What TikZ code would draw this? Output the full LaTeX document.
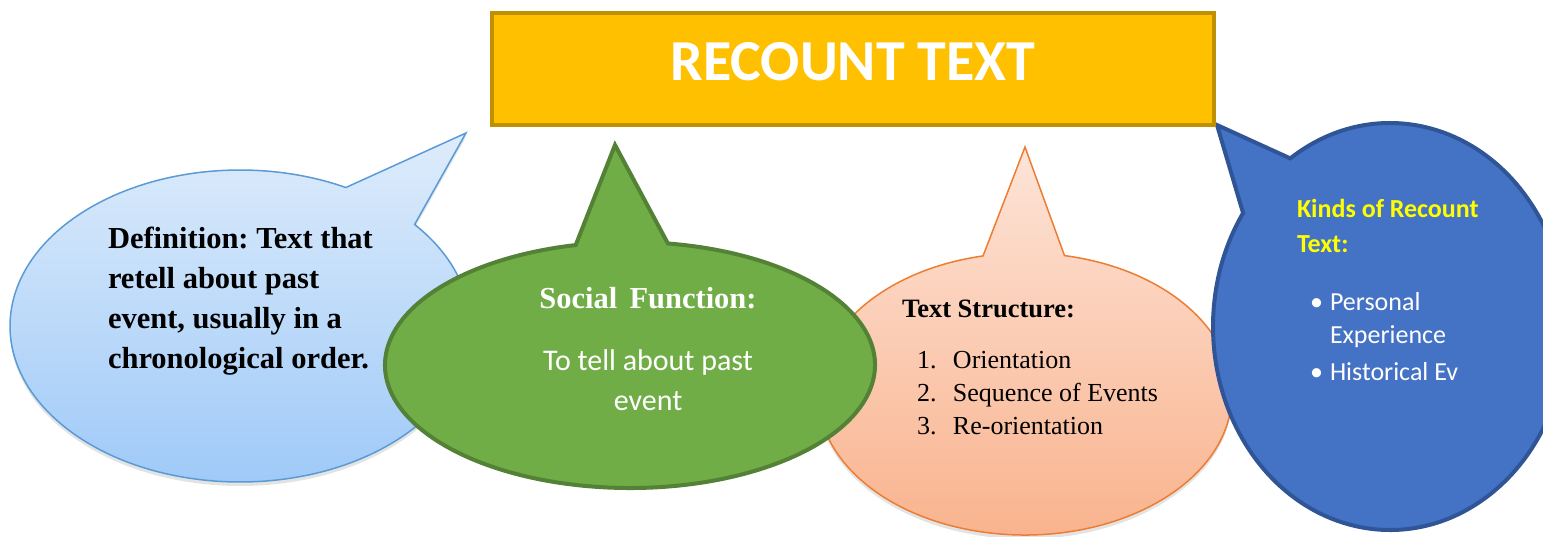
\documentclass[tikz,border=0pt]{standalone}
\usepackage{fontspec}
\setmainfont{Liberation Serif}
\newfontfamily\calfont{Carlito}
\usetikzlibrary{shadows,calc}
\definecolor{boxfill}{HTML}{FFC000}
\definecolor{boxline}{HTML}{BF9000}
\definecolor{lbtop}{HTML}{DEECFB}
\definecolor{lbbot}{HTML}{9CC8F8}
\definecolor{lbline}{HTML}{5B9BD5}
\definecolor{grfill}{HTML}{70AD47}
\definecolor{grline}{HTML}{538135}
\definecolor{ortop}{HTML}{FDE4D8}
\definecolor{orbot}{HTML}{F9B28C}
\definecolor{orline}{HTML}{ED7D31}
\definecolor{dbfill}{HTML}{4472C4}
\definecolor{dbline}{HTML}{2F5597}
\definecolor{kyellow}{HTML}{FFFF00}
\tikzset{
  bubbleshadow/.style={drop shadow={opacity=0.22, shadow xshift=0pt, shadow yshift=-4pt}},
  plaintext/.style={inner sep=0pt, outer sep=0pt},
}
\frenchspacing
\begin{document}
\begin{tikzpicture}[x=1pt,y=-1pt]
\useasboundingbox (0,0) rectangle (1543,536);
\clip (0,0) rectangle (1543,536);

% left light-blue bubble
\coordinate (lbc) at (240,326);
\coordinate (lbtip) at (466,133);
\path[draw=lbline, line width=1.5pt, top color=lbtop, bottom color=lbbot, bubbleshadow]
  ($(lbc)+(-62.6:230 and 156)$) -- (lbtip) -- ($(lbc)+(-40.6:230 and 156)$)
  arc[start angle=-40.6, end angle=297.4, x radius=230, y radius=156] -- cycle;

% orange bubble
\coordinate (orc) at (1025,394);
\coordinate (ortip) at (1025,147);
\path[draw=orline, line width=1.5pt, top color=ortop, bottom color=orbot, bubbleshadow]
  ($(orc)+(-79:207 and 141)$)
  arc[start angle=-79, end angle=258.3, x radius=207, y radius=141] -- (ortip) -- cycle;

% green bubble
\coordinate (grc) at (630,365);
\coordinate (grtip) at (615,145);
\path[draw=grline, line width=4pt, fill=grfill]
  ($(grc)+(-81.1:245 and 123)$)
  arc[start angle=-81.1, end angle=257.2, x radius=245, y radius=123] -- (grtip) -- cycle;

% dark blue bubble
\coordinate (dbc) at (1390,326.5);
\coordinate (dbtip) at (1217,125);
\path[draw=dbline, line width=4pt, fill=dbfill]
  ($(dbc)+(-124.3:177 and 203.5)$)
  arc[start angle=-124.3, end angle=213.9, x radius=177, y radius=203.5] -- (dbtip) -- cycle;

% title box
\node[draw=boxline, fill=boxfill, line width=4pt, minimum width=722pt, minimum height=112pt, inner sep=0pt] (box) at (853,69) {};
\node[plaintext, anchor=base, text=white, font=\calfont\bfseries\fontsize{58}{60}\selectfont] (title) at (853,80) {RECOUNT TEXT};

% definition (base anchor = last line baseline)
\node[plaintext, anchor=base west, align=left, font=\fontsize{30.5}{39.7}\selectfont\bfseries] (def) at (108,368)
  {Definition: Text that\\retell about past\\event, usually in a\\chronological order.};

% social function
\node[plaintext, anchor=base, text=white, font=\fontsize{30.5}{35}\selectfont\bfseries] (socT) at (648,308) {Social\hspace{0.4em}Function:};
\node[plaintext, anchor=base, align=center, text=white, font=\calfont\fontsize{30}{40}\selectfont] (socB) at (648,410) {To tell about past\\event};

% text structure
\node[plaintext, anchor=base west, font=\fontsize{26.5}{30}\selectfont\bfseries] (tsT) at (902,317) {Text Structure:};
\node[plaintext, anchor=base west, align=left, font=\fontsize{26}{33}\selectfont] (tsL) at (917,434)
  {\makebox[36pt][l]{1.}Orientation\\\makebox[36pt][l]{2.}Sequence of Events\\\makebox[36pt][l]{3.}Re-orientation};

% kinds
\node[plaintext, anchor=base west, align=left, text=kyellow, font=\calfont\bfseries\fontsize{26}{35}\selectfont] (kT) at (1297,252) {Kinds of Recount\\Text:};
\node[plaintext, anchor=base west, align=left, text=white, font=\calfont\fontsize{26}{33}\selectfont] (kL) at (1310,380)
  {\makebox[20pt][l]{•}Personal\\\hspace*{20pt}Experience\\[4pt]\makebox[20pt][l]{•}Historical Ev};
\end{tikzpicture}
\end{document}
